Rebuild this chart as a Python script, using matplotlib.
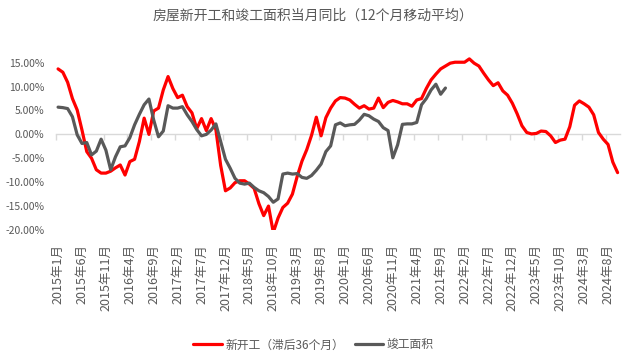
import matplotlib
matplotlib.use('Agg')
import matplotlib.pyplot as plt
import numpy as np

plt.rcParams['font.family'] = ['Noto Sans CJK SC', 'DejaVu Sans']

title = "房屋新开工和竣工面积当月同比（12个月移动平均）"
months = [f"{y}年{m}月" for y in range(2015, 2025) for m in range(1, 13)][:118]
xtick_labels = ["2015年1月", "2015年6月", "2015年11月", "2016年4月", "2016年9月",
                "2017年2月", "2017年7月", "2017年12月", "2018年5月", "2018年10月",
                "2019年3月", "2019年8月", "2020年1月", "2020年6月", "2020年11月",
                "2021年4月", "2021年9月", "2022年2月", "2022年7月", "2022年12月",
                "2023年5月", "2023年10月", "2024年3月", "2024年8月"]
ytick_values = [-20, -15, -10, -5, 0, 5, 10, 15]

# 新开工（滞后36个月）, %
new_starts = [13.7, 13.0, 10.9, 7.5, 5.1, 0.9, -3.6, -5.0, -7.4, -8.1,
              -8.1, -7.7, -7.0, -6.4, -8.5, -5.7, -5.2, -1.5, 3.4, 0.0,
              4.9, 5.5, 9.3, 12.1, 9.6, 7.7, 8.2, 5.8, 4.5, 1.2,
              3.3, 0.8, 3.3, 1.0, -6.5, -11.8, -11.2, -10.1, -9.7, -9.7,
              -10.4, -11.3, -14.5, -17.0, -15.0, -20.5, -17.5, -15.3, -14.4, -12.5,
              -8.8, -5.6, -3.2, -0.2, 3.6, -0.3, 3.5, 5.5, 7.0, 7.7,
              7.6, 7.2, 6.3, 5.5, 6.0, 5.3, 5.5, 7.6, 5.6, 6.7,
              7.1, 6.8, 6.4, 6.4, 5.9, 7.2, 7.5, 9.6, 11.4, 12.6,
              13.7, 14.3, 14.9, 15.1, 15.1, 15.1, 15.8, 14.9, 14.3, 12.8,
              11.4, 10.2, 10.8, 9.1, 8.2, 6.5, 4.3, 1.8, 0.4, 0.1,
              0.2, 0.7, 0.6, -0.3, -1.7, -1.2, -1.0, 1.6, 6.1, 7.0,
              6.4, 5.7, 4.1, 0.4, -1.0, -2.1, -5.8, -8.0]

# 竣工面积, %
completions = [5.7, 5.6, 5.4, 3.7, -0.1, -1.9, -1.7, -4.3, -3.5, -1.0,
               -3.3, -7.4, -4.7, -2.6, -2.4, -0.7, 2.0, 4.2, 6.2, 7.4,
               3.0, -0.5, 0.7, 6.0, 5.5, 5.5, 5.8, 4.1, 2.7, 1.0,
               -0.3, 0.0, 0.9, 2.2, -1.5, -5.2, -7.1, -9.2, -10.2, -10.4,
               -10.2, -11.1, -11.8, -12.2, -13.0, -14.2, -13.5, -8.3, -8.1, -8.3,
               -8.2, -9.0, -9.2, -8.6, -7.5, -6.2, -3.6, -2.4, 2.0, 2.4,
               1.8, 2.0, 2.1, 3.0, 4.2, 3.9, 3.2, 2.7, 1.4, 0.8,
               -4.9, -2.2, 2.1, 2.2, 2.2, 2.5, 6.2, 7.5, 9.3, 10.5,
               8.4, 9.7]

fig = plt.figure(figsize=(6.32, 3.56), dpi=100)
ax = fig.add_axes([0.0881, 0.354, 0.8929, 0.49])
x = np.arange(len(months))
ax.plot(x, new_starts, color='#FF0000', lw=2.3, label='新开工（滞后36个月）',
        solid_joinstyle='round', solid_capstyle='round', zorder=3)
ax.plot(x[:len(completions)], completions, color='#595959', lw=2.3, label='竣工面积',
        solid_joinstyle='round', solid_capstyle='round', zorder=4)

ax.set_xlim(-0.5, len(months) - 0.5)
ax.set_ylim(-20, 16.5)
for s in ['top', 'right', 'left']:
    ax.spines[s].set_visible(False)
ax.spines['bottom'].set_position(('data', 0))
ax.spines['bottom'].set_color('#d9d9d9')
ax.spines['bottom'].set_linewidth(1.0)
ax.spines['bottom'].set_zorder(1)
ax.set_xticks(np.arange(-0.5, len(months), 5))
ax.tick_params(axis='x', length=4, width=1.0, color='#d9d9d9', labelbottom=False)

ax.set_yticks(ytick_values)
ax.set_yticklabels([f"{v:.2f}%" for v in ytick_values])
ax.tick_params(axis='y', length=0, pad=8, labelsize=7.5, labelcolor='#595959')

sec = ax.secondary_xaxis(0.0)
sec.set_xticks(x[::5])
sec.set_xticklabels(xtick_labels, rotation=90, fontsize=9, color='#595959')
sec.tick_params(length=0, pad=10)
sec.spines['bottom'].set_visible(False)

fig.text(0.495, 0.956, title, ha='center', va='center', fontsize=10, color='#595959')

fig.legend(loc='center', bbox_to_anchor=(0.496, 0.031), ncol=2, frameon=False,
           fontsize=8.5, handlelength=2.4, handletextpad=0.3, columnspacing=0.9,
           labelcolor='#595959')

fig.savefig('out.png', dpi=100)
